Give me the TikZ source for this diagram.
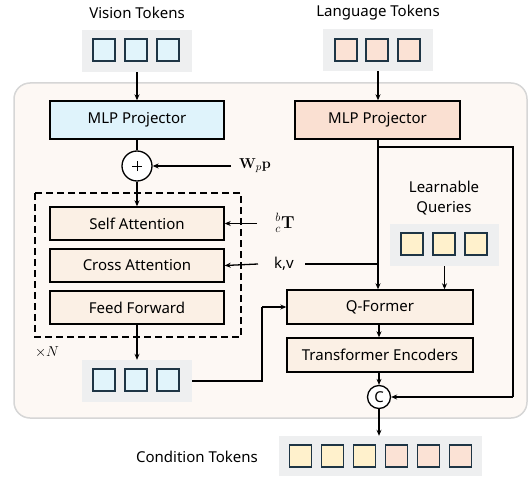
\documentclass[tikz,border=0pt]{standalone}
\usepackage[no-math]{fontspec}
\setmainfont{Noto Sans}
\usetikzlibrary{arrows.meta}
\definecolor{bgfill}{HTML}{FDF8F4}
\definecolor{bgline}{HTML}{D6D6D6}
\definecolor{panelgray}{HTML}{EEEFF0}
\definecolor{tokline}{HTML}{1E3545}
\definecolor{visfill}{HTML}{E1F4FB}
\definecolor{langfill}{HTML}{FBE2D5}
\definecolor{lqfill}{HTML}{FFF1CC}
\definecolor{mlpl}{HTML}{DFF3FB}
\definecolor{mlpr}{HTML}{FAE0D2}
\definecolor{blockfill}{HTML}{FBF0E5}
\tikzset{
  every node/.style={font=\fontsize{15}{17}\selectfont, inner sep=0pt},
  blk/.style={draw=black, line width=1.4pt, minimum height=33pt},
  panel/.style={fill=panelgray, minimum width=110pt, minimum height=42pt},
  tok/.style={draw=tokline, line width=1.6pt, minimum width=22pt, minimum height=22pt},
  arr/.style={line width=1.3pt, -{Stealth[length=6pt,width=5pt]}},
  ln/.style={line width=1.3pt},
  opc/.style={draw=black, line width=1.3pt, circle, fill=white}
}
\begin{document}
\begin{tikzpicture}[x=1pt,y=-1pt]
\useasboundingbox (0,0) rectangle (532,476);
% background
\node[draw=bgline, line width=1.5pt, fill=bgfill, rounded corners=16pt,
  minimum width=513pt, minimum height=335pt] (bg) at (270.5,250.5) {};
% top labels
\node (vlabel) at (137,13) {Vision Tokens};
\node (llabel) at (378,13) {Language Tokens};
% top vision panel
\node[panel] (vtop) at (137,51) {};
\node[tok, fill=visfill] (vt1) at (104,50) {};
\node[tok, fill=visfill] (vt2) at (136,50) {};
\node[tok, fill=visfill] (vt3) at (168,50) {};
% top language panel
\node[panel] (ltop) at (378,50) {};
\node[tok, fill=langfill] (lt1) at (346,50) {};
\node[tok, fill=langfill] (lt2) at (377,50) {};
\node[tok, fill=langfill] (lt3) at (409,50) {};
% MLP projectors
\node[blk, fill=mlpl, minimum width=174pt, minimum height=38pt] (mlpL) at (137,120) {MLP Projector};
\node[blk, fill=mlpr, minimum width=165pt, minimum height=38pt] (mlpR) at (377.5,120) {MLP Projector};
% plus
\node[opc, minimum size=30pt] (plus) at (137,166) {};
\draw[line width=1pt] ([xshift=-5pt]plus.center) -- ([xshift=5pt]plus.center)
  ([yshift=-5pt]plus.center) -- ([yshift=5pt]plus.center);
\node (wp) at (255,166) {$\mathbf{W}_{p}\mathbf{p}$};
% dashed box
\draw[dashed, line width=1.4pt, dash pattern=on 7pt off 4pt] (35,193) rectangle (241,337);
\node (xn) at (47,352) {$\times N$};
% transformer blocks
\node[blk, fill=blockfill, minimum width=174pt] (sa) at (137,223.5) {Self Attention};
\node[blk, fill=blockfill, minimum width=174pt] (ca) at (137,265.5) {Cross Attention};
\node[blk, fill=blockfill, minimum width=174pt] (ff) at (137,307.5) {Feed Forward};
\node[font=\fontsize{18}{20}\selectfont] (bct) at (285,223) {${}^{b}_{c}\mathbf{T}$};
\node (kv) at (284,264) {k,v};
% bottom vision panel
\node[panel] (vbot) at (137,381) {};
\node[tok, fill=visfill] (vb1) at (104,380) {};
\node[tok, fill=visfill] (vb2) at (136,380) {};
\node[tok, fill=visfill] (vb3) at (168,380) {};
% learnable queries
\node[align=center, font=\fontsize{15}{20}\selectfont] (lqlabel) at (444,198) {Learnable\\Queries};
\node[panel, minimum width=109pt] (lq) at (444.5,245) {};
\node[tok, fill=lqfill] (lq1) at (412,244) {};
\node[tok, fill=lqfill] (lq2) at (444,244) {};
\node[tok, fill=lqfill] (lq3) at (476,244) {};
% Q-Former and encoders
\node[blk, fill=blockfill, minimum width=186pt, minimum height=34pt] (qf) at (380,307) {Q-Former};
\node[blk, fill=blockfill, minimum width=186pt, minimum height=34pt] (te) at (380,355) {Transformer Encoders};
\node[opc, minimum size=23pt] (cc) at (379,397) {C};
% condition tokens
\node (clabel) at (197,457) {Condition Tokens};
\node[panel, minimum width=203pt, minimum height=40pt] (cond) at (380.5,456) {};
\node[tok, fill=lqfill] (c1) at (300.5,456) {};
\node[tok, fill=lqfill] (c2) at (332.5,456) {};
\node[tok, fill=lqfill] (c3) at (364.5,456) {};
\node[tok, fill=langfill] (c4) at (396.5,456) {};
\node[tok, fill=langfill] (c5) at (428.5,456) {};
\node[tok, fill=langfill] (c6) at (460.5,456) {};
% coordinates
\coordinate (lsplit) at (378,147);
\coordinate (rcorner) at (513,147);
\coordinate (rbot) at (513,397);
\coordinate (kvjoin) at (378,264);
\coordinate (kvstart) at (305,264);
\coordinate (kvend) at (258,264);
\coordinate (bctstart) at (257,223.5);
\coordinate (wpstart) at (231,166);
\coordinate (vbend) at (262,381);
\coordinate (vbend2) at (262,307);
% connectors
\draw[arr] (vtop.south) -- (mlpL.north);
\draw[arr] (ltop.south -| lsplit) -- (mlpR.north -| lsplit);
\draw[ln] (mlpL.south) -- (plus.north);
\draw[arr] (plus.south) -- (sa.north);
\draw[arr] (wpstart) -- (plus.east);
\draw[arr] (bctstart) -- (sa.east);
\draw[arr] (kvend) -- (ca.east);
\draw[ln] (kvstart) -- (kvjoin);
\draw[arr] (mlpR.south -| lsplit) -- (qf.north -| lsplit);
\draw[ln] (lsplit) -- (rcorner) -- (rbot);
\draw[arr] (rbot) -- (cc.east);
\draw[arr] (lq.south) -- (qf.north -| lq.south);
\draw[arr] (ff.south) -- (vbot.north);
\draw[ln] (vbot.east) -- (vbend) -- (vbend2);
\draw[arr] (vbend2) -- (qf.west);
\draw[arr] (te.south -| cc.north) -- (cc.north);
\draw[arr] (qf.south -| cc.north) -- (te.north -| cc.north);
\draw[arr] (cc.south) -- (cond.north -| cc.south);
\end{tikzpicture}
\end{document}
